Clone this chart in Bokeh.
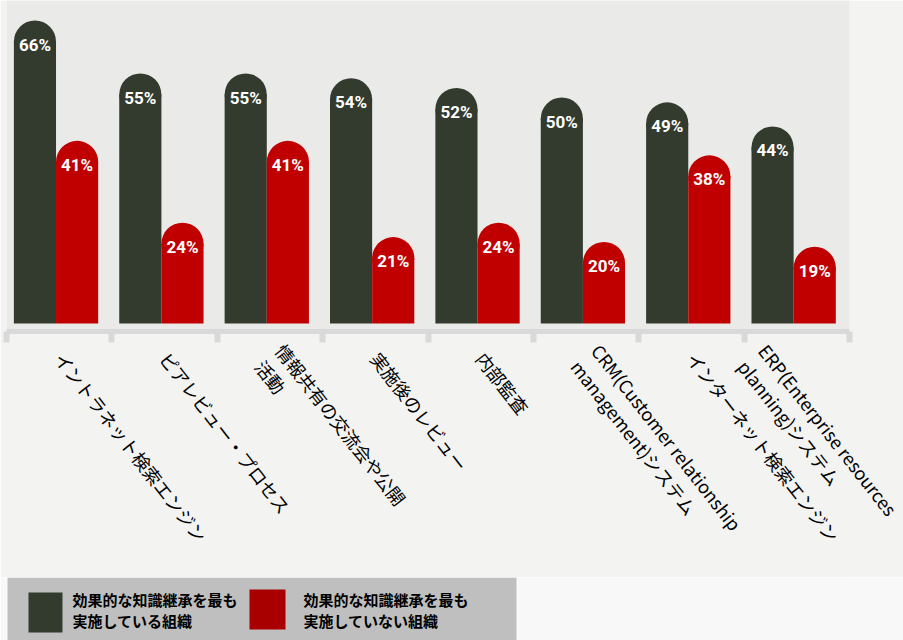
import math
from bokeh.plotting import figure
from bokeh.models import Range1d, FixedTicker, ColumnDataSource
from bokeh.layouts import column
from bokeh.core.properties import value
from bokeh.embed import file_html
from bokeh.resources import INLINE

# ---------------- data ----------------
categories = [
    "イントラネット検索エンジン",
    "ピアレビュー・プロセス",
    "情報共有の交流会や公開\n活動",
    "実施後のレビュー",
    "内部監査",
    "CRM(Customer relationship\nmanagement)システム",
    "インターネット検索エンジン",
    "ERP(Enterprise resources\nplanning)システム",
]
most_effective = [66, 55, 55, 54, 52, 50, 49, 44]
least_effective = [41, 24, 41, 21, 24, 20, 38, 19]
series_names = [
    "効果的な知識継承を最も\n実施している組織",
    "効果的な知識継承を最も\n実施していない組織",
]

# ---------------- styling ----------------
DARK = "#333a2e"
RED = "#c00000"
LEG_COLORS = ["#333a2e", "#a80000"]
BAR_W = 0.4
SHIFT = -0.03
BASE = 7.44          # value at which bars visually start (bars sit above axis)
LEFT_B, RIGHT_B = 6, 54

n = len(categories)
centers = [i + 0.5 for i in range(n)]
x_most = [c - BAR_W / 2 + SHIFT for c in centers]
x_least = [c + BAR_W / 2 + SHIFT for c in centers]

src_most = ColumnDataSource(dict(x=x_most, top=most_effective,
                                 lab=[f"{v}%" for v in most_effective]))
src_least = ColumnDataSource(dict(x=x_least, top=least_effective,
                                  lab=[f"{v}%" for v in least_effective]))

p = figure(width=903, height=577, output_backend="svg", toolbar_location=None,
           x_range=Range1d(0, n), y_range=Range1d(5.77, 74.53),
           y_axis_location=None,
           min_border_left=LEFT_B, min_border_right=RIGHT_B, min_border_top=0,
           min_border_bottom=246)
p.grid.visible = False
p.outline_line_color = None
p.background_fill_color = "#eaebe9"
p.border_fill_color = "#f3f3f2"

for src, col in ((src_most, DARK), (src_least, RED)):
    p.vbar(x="x", top="top", bottom=BASE, width=BAR_W, source=src,
           fill_color=col, line_color=None)
    p.circle(x="x", y="top", radius=BAR_W / 2, radius_dimension="x",
             source=src, fill_color=col, line_color=None)

for src in (src_most, src_least):
    p.text(x="x", y="top", text="lab", source=src, text_align="center",
           text_baseline="middle", y_offset=3, text_color="white",
           text_font=value("Roboto"), text_font_style="bold",
           text_font_size="17px")

ax = p.xaxis[0]
ax.ticker = FixedTicker(ticks=centers, minor_ticks=list(range(n + 1)))
ax.major_label_overrides = {c: lab for c, lab in zip(centers, categories)}
ax.axis_line_color = "#d9d9d9"
ax.axis_line_width = 5
ax.major_tick_line_color = None
ax.major_tick_out = 0
ax.major_tick_in = 0
ax.minor_tick_line_color = "#d9d9d9"
ax.minor_tick_line_width = 6
ax.minor_tick_out = 11
ax.minor_tick_in = 0
ax.major_label_orientation = -math.radians(52)
ax.major_label_text_font = "Noto Sans CJK JP"
ax.major_label_text_font_size = "18px"
ax.major_label_text_color = "black"
ax.major_label_text_line_height = 1.0
ax.major_label_standoff = 12

# ---------------- legend strip (drawn in pixel coordinates) ----------------
lg = figure(width=903, height=63, output_backend="svg", toolbar_location=None,
            x_range=Range1d(LEFT_B, 903 - RIGHT_B), y_range=Range1d(63, 0),
            x_axis_location=None, y_axis_location=None,
            min_border_left=LEFT_B, min_border_right=RIGHT_B,
            min_border_top=0, min_border_bottom=0)
lg.grid.visible = False
lg.outline_line_color = None
lg.background_fill_color = "#f8f8f8"
lg.border_fill_color = "#f8f8f8"
lg.quad(left=7, right=516, top=0, bottom=63, fill_color="#bfbfbf", line_color=None)
lg.quad(left=[28, 249], right=[62, 285], top=[15, 12], bottom=[55, 52],
        fill_color=LEG_COLORS, line_color=None)
lg.text(x=[72, 303], y=[32.5, 32.5], text=series_names, text_align="left",
        text_baseline="middle", text_font=value("Noto Sans CJK JP"),
        text_font_style="bold", text_font_size="15px", text_line_height=1.0,
        text_color="black")

layout = column(p, lg, spacing=0)
open("out.html", "w").write(file_html(layout, INLINE))
